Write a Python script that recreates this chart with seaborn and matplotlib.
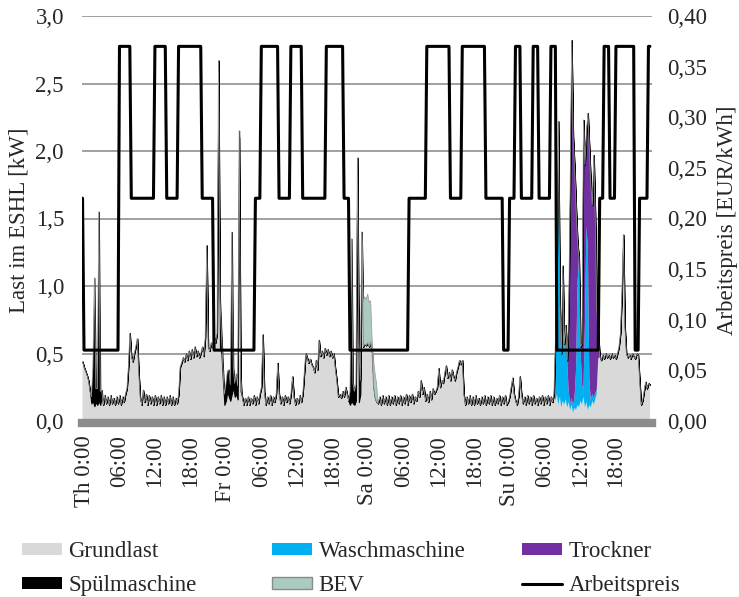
import numpy as np
import matplotlib
matplotlib.use("Agg")
import matplotlib.pyplot as plt
import seaborn as sns
from matplotlib.patches import Patch
from matplotlib.lines import Line2D

# ---------------- data (15-min samples, first sample at -0:15 Thursday) ----------------
T0 = -0.25          # hour of first sample
STEP = 0.25         # hours per sample

grund_th = [0.44, 0.40, 0.37, 0.34, 0.30, 0.22, 0.13, 0.15,
            0.11, 0.14, 0.12, 0.15, 0.12, 0.18, 0.12, 0.19,
            0.13, 0.18, 0.12, 0.19, 0.13, 0.17, 0.12, 0.18,
            0.13, 0.19, 0.12, 0.18, 0.14, 0.20, 0.24, 0.40,
            0.65, 0.48, 0.44, 0.50, 0.55, 0.61, 0.36, 0.17,
            0.12, 0.23, 0.14, 0.20, 0.12, 0.19, 0.13, 0.18,
            0.12, 0.19, 0.12, 0.18, 0.13, 0.19, 0.12, 0.18,
            0.12, 0.18, 0.13, 0.19, 0.12, 0.18, 0.12, 0.17,
            0.13, 0.20, 0.40, 0.43, 0.47, 0.44, 0.50, 0.45,
            0.52, 0.46, 0.53, 0.47, 0.55, 0.48, 0.52, 0.47,
            0.50, 0.55, 0.48, 0.62, 1.30, 0.55, 0.52, 0.58,
            0.55, 0.62, 0.58, 0.65, 2.67, 0.55, 0.50, 0.30]
grund_fr = [0.12, 0.15, 0.22, 0.18, 0.15, 0.20, 0.25, 0.18,
            0.20, 0.16, 2.10, 0.22, 0.18, 0.12, 0.17, 0.12,
            0.18, 0.12, 0.17, 0.13, 0.19, 0.12, 0.18, 0.13,
            0.20, 0.25, 0.64, 0.22, 0.12, 0.18, 0.13, 0.19,
            0.12, 0.18, 0.14, 0.20, 0.43, 0.20, 0.13, 0.18,
            0.12, 0.19, 0.14, 0.18, 0.13, 0.20, 0.33, 0.18,
            0.12, 0.17, 0.13, 0.19, 0.14, 0.20, 0.35, 0.50,
            0.47, 0.43, 0.46, 0.42, 0.40, 0.36, 0.45, 0.38,
            0.60, 0.48, 0.52, 0.47, 0.54, 0.49, 0.53, 0.48,
            0.52, 0.47, 0.50, 0.39, 0.30, 0.18, 0.20, 0.17,
            0.22, 0.18, 0.25, 0.20, 0.15, 0.12, 0.15, 0.13,
            0.12, 0.15, 1.95, 0.14, 0.20, 1.40, 0.55, 0.57]
grund_sa = [0.56, 0.58, 0.55, 0.59, 0.50, 0.25, 0.17, 0.14,
            0.13, 0.18, 0.12, 0.19, 0.13, 0.18, 0.12, 0.19,
            0.12, 0.18, 0.13, 0.19, 0.12, 0.18, 0.13, 0.19,
            0.12, 0.18, 0.13, 0.20, 0.12, 0.19, 0.14, 0.20,
            0.13, 0.18, 0.15, 0.22, 0.18, 0.30, 0.20, 0.25,
            0.15, 0.20, 0.14, 0.22, 0.16, 0.24, 0.20, 0.22,
            0.25, 0.39, 0.25, 0.30, 0.28, 0.35, 0.41, 0.32,
            0.36, 0.30, 0.38, 0.33, 0.30, 0.36, 0.40, 0.45,
            0.42, 0.45, 0.20, 0.12, 0.18, 0.13, 0.19, 0.12,
            0.18, 0.12, 0.19, 0.13, 0.17, 0.12, 0.18, 0.13,
            0.19, 0.12, 0.18, 0.13, 0.19, 0.12, 0.18, 0.12,
            0.17, 0.13, 0.19, 0.12, 0.18, 0.13, 0.19, 0.12]
grund_su = [0.14, 0.18, 0.25, 0.32, 0.20, 0.15, 0.12, 0.18,
            0.33, 0.20, 0.13, 0.18, 0.12, 0.19, 0.13, 0.18,
            0.12, 0.19, 0.13, 0.17, 0.12, 0.18, 0.13, 0.19,
            0.12, 0.18, 0.13, 0.19, 0.12, 0.18, 0.14, 0.20,
            0.15, 0.20, 0.12, 0.18, 0.10, 0.15, 0.12, 0.16,
            0.10, 0.14, 0.08, 0.12, 0.06, 0.10, 0.08, 0.12,
            0.10, 0.15, 0.12, 0.18, 0.10, 0.14, 0.08, 0.12,
            0.10, 0.15, 0.12, 0.16, 0.20, 0.46, 0.48, 0.45,
            0.49, 0.46, 0.50, 0.47, 0.49, 0.46, 0.50, 0.47,
            0.49, 0.46, 0.50, 0.55, 0.65, 0.95, 1.38, 0.70,
            0.50, 0.47, 0.49, 0.46, 0.50, 0.48, 0.46, 0.50,
            0.49, 0.30, 0.12, 0.15, 0.22, 0.29, 0.24, 0.28, 0.27]

# appliance events: start hour + consecutive 15-min values [kW]
spuel_1_start, spuel_1 = 1.25, [0.05, 0.25, 0.95, 0.10, 0.12, 1.40, 0.10, 0.05]
spuel_2_start, spuel_2 = 23.0, [0.35, 0.15, 0.10, 0.08, 0.12, 0.15, 0.20, 0.12,
                                1.20, 0.15, 0.10, 0.15, 0.10, 0.05, 0.10]
spuel_3_start, spuel_3 = 45.0, [0.10, 1.20, 0.15, 0.10, 0.12, 0.0, 0.45, 0.10]
bev_start, bev = 47.25, [0.33, 0.35, 0.34, 0.36, 0.33, 0.30, 0.10, 0.20, 0.18, 0.14]
wasch_start, wasch = 79.75, [0.45, 0.90, 2.10, 0.70, 0.40, 1.00, 0.45, 0.55, 0.35,
                             0.08, 0.05, 0.05, 0.05, 0.08, 0.30, 0.90, 1.10, 0.40,
                             0.15, 0.05, 0.60, 1.30, 1.20, 0.20, 0.05, 0.05, 0.05,
                             0.05, 0.03]
trock_start, trock = 82.0, [0.60, 1.60, 2.65, 2.00, 1.70, 1.20, 0.30, 0.0, 0.0,
                            0.30, 2.00, 1.20, 0.70, 1.00, 1.70, 1.60, 1.40, 1.80,
                            1.30, 0.60, 0.20]

# price: change hours and levels [EUR/kWh]
price_change_h = [-0.25, 0, 6, 8, 12, 14, 16, 20, 22, 29, 30, 33, 35, 37, 41, 44, 45,
                  55, 58, 62, 64, 68, 71, 72, 73, 74, 76, 77, 79, 80, 87.25, 88, 89,
                  90, 93.25, 94, 95.5]
price_level = [0.22, 0.07, 0.37, 0.22, 0.37, 0.22, 0.37, 0.22, 0.07, 0.22, 0.37, 0.22,
               0.37, 0.22, 0.37, 0.22, 0.07, 0.22, 0.37, 0.22, 0.37, 0.22, 0.07, 0.22,
               0.37, 0.22, 0.37, 0.22, 0.37, 0.07, 0.22, 0.37, 0.22, 0.37, 0.07, 0.22,
               0.37]

tick_hours = [0, 6, 12, 18, 24, 30, 36, 42, 48, 54, 60, 66, 72, 78, 84, 90]
tick_labels = ["Th 0:00", "06:00", "12:00", "18:00", "Fr 0:00", "06:00", "12:00",
               "18:00", "Sa 0:00", "06:00", "12:00", "18:00", "Su 0:00", "06:00",
               "12:00", "18:00"]

# ---------------- build series ----------------
grund = np.array(grund_th + grund_fr + grund_sa + grund_su)
n = len(grund)
t = T0 + np.arange(n) * STEP


def series(events):
    s = np.zeros(n)
    for start, vals in events:
        i0 = int(round((start - T0) / STEP))
        s[i0:i0 + len(vals)] = vals
    return s


spuel_s = series([(spuel_1_start, spuel_1), (spuel_2_start, spuel_2), (spuel_3_start, spuel_3)])
bev_s = series([(bev_start, bev)])
wasch_s = series([(wasch_start, wasch)])
trock_s = series([(trock_start, trock)])
idx = np.searchsorted(price_change_h, t, side="right") - 1
price = np.array(price_level)[idx]

# ---------------- plot ----------------
sns.set_theme(style="white")
plt.rcParams["font.family"] = ["Liberation Serif", "DejaVu Serif"]
FS = 16.5

fig = plt.figure(figsize=(7.39, 5.97), dpi=100)
ax = fig.add_axes([82 / 739, 1 - 421 / 597, 570 / 739, 405 / 597])

c_grund, c_wasch, c_trock, c_spuel, c_bev = "#d9d9d9", "#00b0f0", "#7030a0", "#000000", "#a9cbc0"
layers = [grund, wasch_s, trock_s, spuel_s, bev_s]
cols = [c_grund, c_wasch, c_trock, c_spuel, c_bev]
bottom = np.zeros(n)
for lay, c in zip(layers, cols):
    top = bottom + lay
    ec, lw = "none", 0
    if c == c_spuel:
        ec, lw = "#000000", 0.8
    ax.fill_between(t, bottom, top, facecolor=c, edgecolor=ec, linewidth=lw, zorder=2)
    bottom = top
total = bottom

# outline of base load only where BEV sits on it
bev_zone = np.convolve(bev_s > 0, np.ones(3), mode="same") > 0
grund_line = np.where(bev_zone, grund, np.nan)
ax.plot(t, grund_line, color="#8f8f8f", linewidth=0.7, zorder=3)
sns.lineplot(x=t, y=total, ax=ax, color="#9c9c9c", linewidth=0.55, zorder=3)

ax2 = ax.twinx()
sns.lineplot(x=t, y=price, ax=ax2, color="black", linewidth=2.2, zorder=5)

ax.set_xlim(-0.34, 96.1)
ax.set_ylim(0, 3.0)
yt = np.arange(0, 3.01, 0.5)
ax.set_yticks(yt)
ax.set_yticklabels([f"{v:.1f}".replace(".", ",") for v in yt], fontsize=FS)
ax.tick_params(axis="y", length=0, pad=13)
ax.grid(axis="y", color="#868686", linewidth=1.1)
ax.grid(axis="x", visible=False)
ax.set_axisbelow(True)
for s in ["top", "left", "right"]:
    ax.spines[s].set_visible(False)
ax.spines["bottom"].set_color("#8c8c8c")
ax.spines["bottom"].set_linewidth(6)
ax.spines["bottom"].set_position(("outward", 1.5))
ax.spines["bottom"].set_zorder(4)
ax.set_ylabel("")
ax.set_xlabel("")

ax2.set_ylim(0, 0.40)
yt2 = np.arange(0, 0.401, 0.05)
ax2.set_yticks(yt2)
ax2.set_yticklabels([f"{v:.2f}".replace(".", ",") for v in yt2], fontsize=FS)
ax2.tick_params(axis="y", length=0, pad=11)
for s in ["top", "left", "right", "bottom"]:
    ax2.spines[s].set_visible(False)
ax2.grid(False)
ax2.set_ylabel("")
ax2.set_xlabel("")
ax2.set_xlim(-0.34, 96.1)

ax.set_xticks(tick_hours)
ax.set_xticklabels(tick_labels, rotation=90, fontsize=FS, va="top", ha="center")
ax.tick_params(axis="x", length=0, pad=9, labelbottom=True)

fig.text(19 / 739, 1 - 220 / 597, "Last im ESHL [kW]", rotation=90, fontsize=FS,
         ha="center", va="center")
fig.text(728 / 739, 1 - 220 / 597, "Arbeitspreis [EUR/kWh]", rotation=90, fontsize=FS,
         ha="center", va="center")

# legend: three columns, two rows
h_grund = Patch(facecolor=c_grund, edgecolor="none", label="Grundlast")
h_wasch = Patch(facecolor=c_wasch, edgecolor="none", label="Waschmaschine")
h_trock = Patch(facecolor=c_trock, edgecolor="none", label="Trockner")
h_spuel = Patch(facecolor=c_spuel, edgecolor="none", label="Spülmaschine")
h_bev = Patch(facecolor=c_bev, edgecolor="#8a8a8a", linewidth=1.0, label="BEV")
h_price = Line2D([0], [0], color="black", linewidth=2.2, label="Arbeitspreis")
for xpx, hs in [(22, [h_grund, h_spuel]), (272, [h_wasch, h_bev]), (522, [h_trock, h_price])]:
    fig.legend(handles=hs, loc="upper left", bbox_to_anchor=(xpx / 739, 1 - 541 / 597),
               frameon=False, fontsize=FS, borderpad=0, borderaxespad=0,
               handlelength=1.75, handleheight=0.45, handletextpad=0.28, labelspacing=0.58)

fig.savefig("out.png", dpi=100)
